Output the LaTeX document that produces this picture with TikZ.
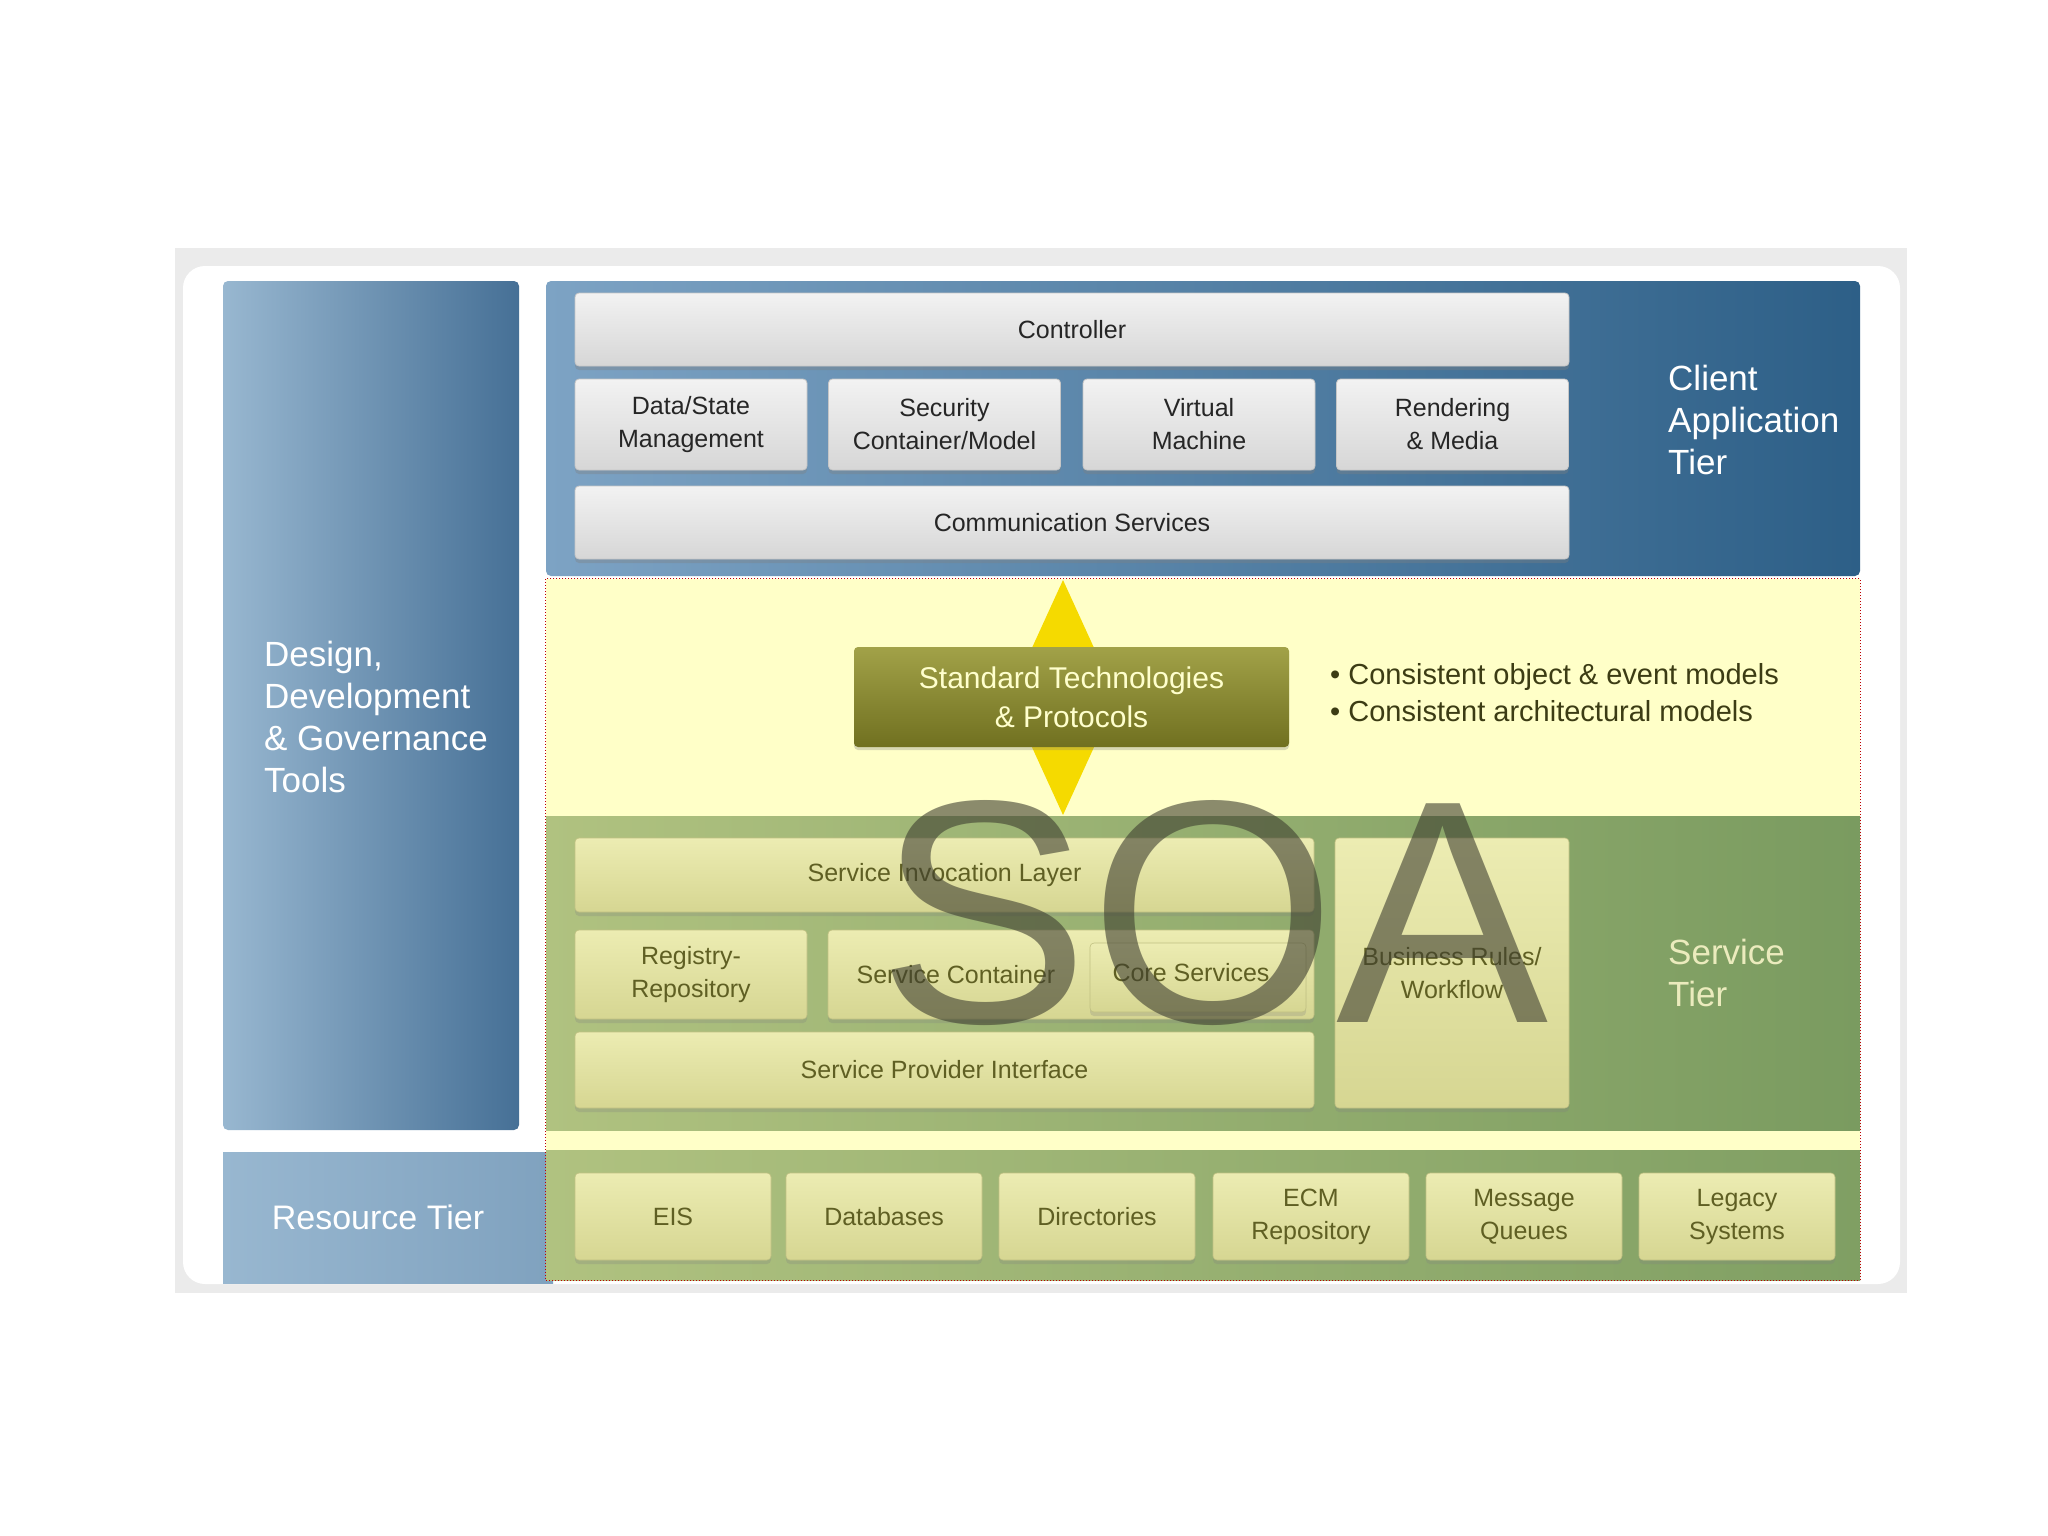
\documentclass[tikz,border=0pt]{standalone}
\usepackage{fontspec}
\setmainfont{Liberation Sans}
\usetikzlibrary{shadows}
\definecolor{blueL}{RGB}{152,183,208}
\definecolor{blueD}{RGB}{70,112,150}
\definecolor{cblueL}{RGB}{125,163,196}
\definecolor{cblueD}{RGB}{45,95,135}
\definecolor{yel}{RGB}{255,255,200}
\definecolor{grnL}{RGB}{176,194,128}
\definecolor{grnD}{RGB}{122,155,96}
\definecolor{creamT}{RGB}{236,236,178}
\definecolor{creamB}{RGB}{214,214,146}
\definecolor{creamTxt}{RGB}{95,95,35}
\definecolor{oliveT}{RGB}{162,162,72}
\definecolor{oliveB}{RGB}{112,112,32}
\definecolor{diam}{RGB}{245,218,0}
\definecolor{soac}{RGB}{62,62,48}
\definecolor{stdTxt}{RGB}{255,255,205}
\definecolor{bulTxt}{RGB}{60,60,20}
\begin{document}
\begin{tikzpicture}[x=1pt,y=-1pt,
  graybox/.style={rectangle, rounded corners=4, top color=gray!10, bottom color=gray!32,
     draw=gray!45, line width=0.8, align=center, text=black!85, inner sep=0,
     font=\fontsize{25}{33}\selectfont,
     drop shadow={opacity=0.35, shadow xshift=0pt, shadow yshift=-4pt}},
  creambox/.style={rectangle, rounded corners=4, top color=creamT, bottom color=creamB,
     draw=creamB!90!black, line width=0.6, align=center, text=creamTxt, inner sep=0,
     font=\fontsize{25}{33}\selectfont,
     drop shadow={opacity=0.25, shadow xshift=0pt, shadow yshift=-4pt}},
  tierlabel/.style={anchor=west, align=left, inner sep=0, font=\fontsize{35}{42}\selectfont}
]
\useasboundingbox (0,0) rectangle (2048,1536);
\fill[white] (0,0) rectangle (2048,1536);
% outer frame
\fill[gray!16] (175,248) rectangle (1907,1293);
\fill[white, rounded corners=22] (183,266) rectangle (1900,1284);
% left column
\node[rectangle, rounded corners=5, left color=blueL, right color=blueD, minimum width=296, minimum height=849, inner sep=0] (design) at (371,705.5) {};
\node[tierlabel, text=white] (designlbl) at (264,717) {Design,\\Development\\\& Governance\\Tools};
% resource blue
\node[rectangle, left color=blueL, right color=blueL!70!blueD, minimum width=330, minimum height=131, inner sep=0] (resblue) at (388,1217.5) {};
\node[inner sep=0, text=white, font=\fontsize{34}{40}\selectfont] (reslbl) at (378,1217) {Resource Tier};
% client tier
\node[rectangle, rounded corners=5, left color=cblueL, right color=cblueD, minimum width=1314, minimum height=295, inner sep=0] (client) at (1203,428.5) {};
\node[tierlabel, text=white] (clientlbl) at (1668,420) {Client\\Application\\Tier};
% yellow middle area
\node[rectangle, fill=yel, minimum width=1314, minimum height=701, inner sep=0] (mid) at (1203,929.5) {};
% service tier green
\node[rectangle, left color=grnL, right color=grnD, minimum width=1314, minimum height=314, inner sep=0] (service) at (1203,973) {};
\node[tierlabel, text=stdTxt!92!black] (servicelbl) at (1668,973) {Service\\Tier};
% resource green
\node[rectangle, left color=grnL, right color=grnD!90!grnL, minimum width=1314, minimum height=130, inner sep=0] (resgreen) at (1203,1215) {};
% red dotted border
\draw[red!75!black, dotted, line width=1] (mid.north west) rectangle (mid.south east);
% client boxes
\node[graybox, minimum width=994, minimum height=73] (ctrl) at (1072,329.5) {Controller};
\node[graybox, minimum width=232, minimum height=91] (data) at (691,424.5) {Data/State\\Management};
\node[graybox, minimum width=232, minimum height=91] (sec) at (944.5,424.5) {Security\\Container/Model};
\node[graybox, minimum width=232, minimum height=91] (vm) at (1199,424.5) {Virtual\\Machine};
\node[graybox, minimum width=232, minimum height=91] (rend) at (1452.5,424.5) {Rendering\\\& Media};
\node[graybox, minimum width=994, minimum height=73] (comm) at (1072,522.5) {Communication Services};
% diamond double arrow
\fill[diam] (1063,580) -- (1095,650) -- (1095,745) -- (1063,815) -- (1031,745) -- (1031,650) -- cycle;
% standard technologies
\node[rectangle, rounded corners=4, top color=oliveT, bottom color=oliveB, minimum width=435, minimum height=100, inner sep=0, align=center, text=stdTxt, font=\fontsize{30}{39}\selectfont, drop shadow={opacity=0.3, shadow xshift=0pt, shadow yshift=-3pt}] (std) at (1071.5,697) {Standard Technologies\\\& Protocols};
\node[anchor=west, inner sep=0, text=bulTxt, font=\fontsize{29}{37}\selectfont, align=left] (bul) at (1330,692.5) {\textbullet\ Consistent object \& event models\\\textbullet\ Consistent architectural models};
% service boxes
\node[creambox, minimum width=739, minimum height=74] (sil) at (944.5,875) {Service Invocation Layer};
\node[creambox, minimum width=232, minimum height=89] (reg) at (691,974.5) {Registry-\\Repository};
\node[creambox, minimum width=486, minimum height=89] (scont) at (1071,974.5) {};
\node[inner sep=0, text=creamTxt, font=\fontsize{25}{33}\selectfont] (scontlbl) at (956,974.5) {Service Container};
\node[creambox, minimum width=216, minimum height=69] (core) at (1198,977.5) {};
\node[inner sep=0, text=creamTxt, font=\fontsize{25}{33}\selectfont] (corelbl) at (1191,973) {Core Services};
\node[creambox, minimum width=739, minimum height=76] (spi) at (944.5,1070) {Service Provider Interface};
\node[creambox, minimum width=234, minimum height=270] (brw) at (1452,973) {Business Rules/\\Workflow};
% resource boxes
\node[creambox, minimum width=196, minimum height=87] (eis) at (673,1216.5) {EIS};
\node[creambox, minimum width=196, minimum height=87] (db) at (884,1216.5) {Databases};
\node[creambox, minimum width=196, minimum height=87] (dir) at (1097,1216.5) {Directories};
\node[creambox, minimum width=196, minimum height=87] (ecm) at (1311,1216.5) {ECM\\Repository};
\node[creambox, minimum width=196, minimum height=87] (mq) at (1524,1216.5) {Message\\Queues};
\node[creambox, minimum width=196, minimum height=87] (leg) at (1737,1216.5) {Legacy\\Systems};
% SOA watermark
\node[inner sep=0, text=soac, text opacity=0.6, font=\fontsize{318}{318}\selectfont] (soa) at (1213,913) {SOA};
\end{tikzpicture}
\end{document}
